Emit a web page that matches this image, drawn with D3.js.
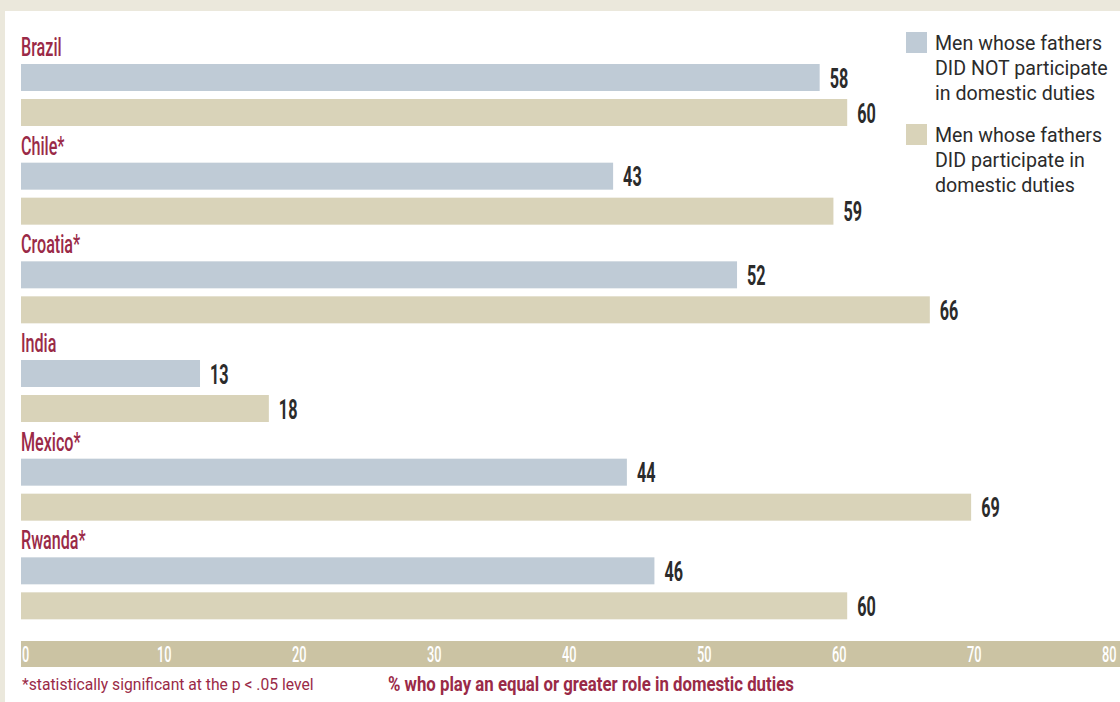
<!DOCTYPE html>
<html><head><meta charset="utf-8">
<script src="https://cdn.jsdelivr.net/npm/d3@7"></script>
<style>
html,body{margin:0;padding:0;background:#ebe8dc;}
svg{display:block;}
</style></head>
<body>
<script>
const countries = ["Brazil","Chile*","Croatia*","India","Mexico*","Rwanda*"];
const notParticipated = [58,43,52,13,44,46];
const participated = [60,59,66,18,69,60];
const seriesNames = [
  ["Men whose fathers","DID NOT participate","in domestic duties"],
  ["Men whose fathers","DID participate in","domestic duties"]
];
const ticks = [0,10,20,30,40,50,60,70,80];
const axisTitle = "% who play an equal or greater role in domestic duties";
const footnote = "*statistically significant at the p < .05 level";

const W = 1120, H = 702;
const colors = ["#bfcbd6", "#d9d3b9"];
const maroon = "#9a2a47";

const svg = d3.select("body").append("svg").attr("width", W).attr("height", H);
svg.append("rect").attr("width", W).attr("height", H).attr("fill", "#ebe8dc");
svg.append("rect").attr("x", 5).attr("y", 11).attr("width", W - 5).attr("height", H - 11).attr("fill", "#fff");

const x = d3.scaleLinear().domain([0, 80]).range([21, 1122.6]);
const tickX = d3.scaleLinear().domain([0, 80]).range([22, 1102]);
const groups = d3.scaleBand().domain(countries).range([38, 630]);
const barH = 27, barGap = 35, barOff = 26;

function addText(g, tx, ty, txt, opts) {
  return g.append("text")
    .attr("transform", `translate(${tx},${ty}) scale(${opts.sx || 1},1)`)
    .attr("font-family", opts.family || "Roboto")
    .attr("font-size", opts.size)
    .attr("font-weight", opts.weight || 400)
    .attr("fill", opts.fill)
    .attr("text-anchor", opts.anchor || "start")
    .text(txt);
}

const data = countries.map((c, i) => ({c, a: notParticipated[i], b: participated[i]}));
const g = svg.append("g");
data.forEach((d, i) => {
  const y0 = groups(d.c);
  addText(g, 21, y0 + 18, d.c, {size: 26, weight: 500, fill: maroon, sx: 0.62});
  [[d.a, 0], [d.b, 1]].forEach(([v, k]) => {
    const yb = y0 + barOff + k * barGap;
    g.append("rect").attr("x", x(0)).attr("y", yb)
      .attr("width", x(v) - x(0)).attr("height", barH).attr("fill", colors[k]);
    addText(g, x(v) + 10, yb + barH / 2 + 10, v, {size: 27, weight: 700, fill: "#2b2b2b", sx: 0.6});
  });
});

// axis band
svg.append("rect").attr("x", x(0)).attr("y", 641).attr("width", W - x(0)).attr("height", 26).attr("fill", "#cbc3a3");
ticks.forEach(t => {
  addText(svg, tickX(t), 661.5, t, {size: 22, weight: 500, fill: "#fff", sx: 0.58});
});

addText(svg, 22, 690, footnote, {size: 16, weight: 400, fill: maroon, sx: 0.98});
addText(svg, 388, 691, axisTitle, {size: 21, weight: 700, fill: maroon, sx: 0.8});

// legend
seriesNames.forEach((lines, k) => {
  const ly = 32 + k * 92;
  svg.append("rect").attr("x", 906).attr("y", ly).attr("width", 21).attr("height", 21).attr("fill", colors[k]);
  lines.forEach((ln, j) => {
    addText(svg, 935, ly + 18 + j * 25, ln, {size: 20, weight: 400, fill: "#2b2b2b", sx: 0.98});
  });
});
</script>
</body></html>
